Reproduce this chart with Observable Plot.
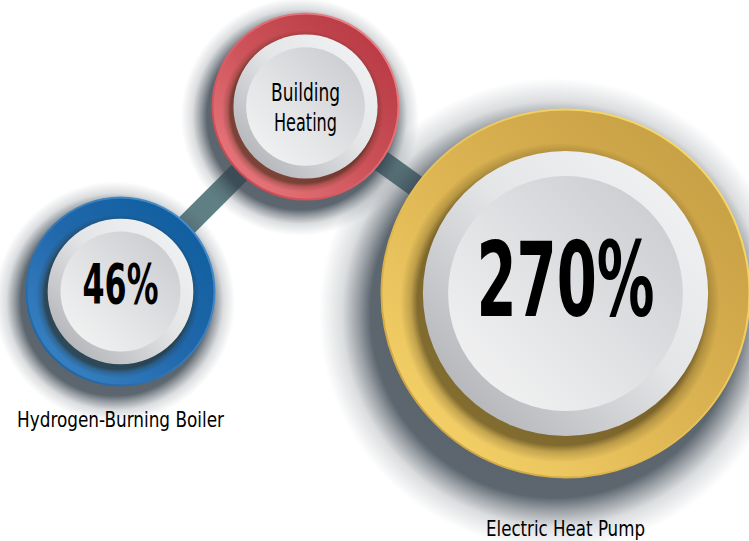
<!DOCTYPE html>
<html>
<head>
<meta charset="utf-8">
<script src="https://cdn.jsdelivr.net/npm/d3@7"></script>
<script src="https://cdn.jsdelivr.net/npm/@observablehq/plot@0.6"></script>
<style>
  html, body { margin: 0; padding: 0; background: #ffffff; }
  #chart svg { display: block; }
</style>
</head>
<body>
<div id="chart"></div>
<script>
// ---- data ----
const nodeNames   = ["Hydrogen-Burning Boiler", "Building Heating", "Electric Heat Pump"];
const nodeKeys    = ["blue", "red", "gold"];
const nodeValues  = [46, null, 270];               // efficiency, %
const centerLabels = ["46%", "Building\nHeating", "270%"];
const captions    = ["Hydrogen-Burning Boiler", "", "Electric Heat Pump"];
const linkPairs   = [[0, 1], [1, 2]];

// ---- layout (infographic positions in pixel units) ----
const W = 749, H = 541;
const nodeX = [120, 305, 565];
const nodeY = [291, 106, 293];
const nodeR = [94, 93, 184];
const captionY = [420, null, 529];

const nodes = nodeNames.map((name, i) => ({
  name, key: nodeKeys[i], value: nodeValues[i], label: centerLabels[i],
  caption: captions[i], x: nodeX[i], y: nodeY[i], r: nodeR[i], cy: captionY[i]
}));
const links = linkPairs.map(([a, b]) => ({x1: nodes[a].x, y1: nodes[a].y, x2: nodes[b].x, y2: nodes[b].y}));

const font = "'DejaVu Sans Condensed','Liberation Sans Narrow','Roboto Condensed','DejaVu Sans',sans-serif";

const DROP = 1.28, INNER = 1.12;   // shadow spreads (relative radius)

const svg = Plot.plot({
  width: W, height: H, margin: 0,
  x: {domain: [0, W], range: [0, W], axis: null},
  y: {domain: [0, H], range: [0, H], axis: null},
  r: {type: "identity"},
  color: {type: "identity"},
  style: {background: "#ffffff", fontFamily: font},
  marks: [
    Plot.link(links, {x1: "x1", y1: "y1", x2: "x2", y2: "y2", stroke: "#607f84", strokeWidth: 22}),
    Plot.dot(nodes, {x: d => d.x - d.r * 0.06, y: d => d.y + d.r * 0.11, r: d => d.r * DROP, fill: "url(#drop)"}),
    Plot.dot(nodes, {x: "x", y: "y", r: "r", fill: d => `url(#ring-${d.key})`, stroke: d => `url(#rim-${d.key})`, strokeWidth: 2}),
    Plot.dot(nodes, {x: d => d.x - d.r * 0.03, y: d => d.y + d.r * 0.05, r: d => d.r * 0.775 * INNER, fill: "url(#inner)"}),
    Plot.dot(nodes, {x: "x", y: "y", r: d => d.r * 0.775, fill: "url(#disk)"}),
    Plot.dot(nodes, {x: "x", y: "y", r: d => d.r * 0.638, fill: "url(#face)"}),
    Plot.text(nodes.filter(d => d.value != null && d.r < 150), {x: "x", y: "y", text: "label", dy: -6, fontSize: 56, fontWeight: "bold", fill: "#000"}),
    Plot.text(nodes.filter(d => d.value != null && d.r >= 150), {x: "x", y: "y", text: "label", dy: -11, fontSize: 104, fontWeight: "bold", fill: "#000"}),
    Plot.text(nodes.filter(d => d.value == null), {x: "x", y: "y", text: "label", fontSize: 25, lineHeight: 1.2, fill: "#000"}),
    Plot.text(nodes.filter(d => d.caption), {x: "x", y: "cy", text: "caption", fontSize: 21, fill: "#000"})
  ]
});

// ---- styling defs: gradients ----
const s = d3.select(svg);
const defs = s.insert("defs", ":first-child");
function lin(id, stops) {
  const g = defs.append("linearGradient").attr("id", id).attr("x1", 1).attr("y1", 0).attr("x2", 0).attr("y2", 1);
  stops.forEach(([o, c]) => g.append("stop").attr("offset", o).attr("stop-color", c));
}
function rad(id, color, stops) {
  const g = defs.append("radialGradient").attr("id", id).attr("cx", 0.5).attr("cy", 0.5).attr("r", 0.5);
  stops.forEach(([o, a]) => g.append("stop").attr("offset", o).attr("stop-color", color).attr("stop-opacity", a));
}
lin("ring-blue", [[0, "#0b5c9c"], [0.5, "#2168ab"], [1, "#3e88c9"]]);
lin("ring-red",  [[0, "#b2343f"], [0.5, "#cc5158"], [1, "#ef8287"]]);
lin("ring-gold", [[0, "#c19941"], [0.5, "#dcb452"], [1, "#fcd96e"]]);
lin("rim-blue",  [[0, "#4d93d2"], [1, "#1b5f9d"]]);
lin("rim-red",   [[0, "#f08a8e"], [1, "#c4404a"]]);
lin("rim-gold",  [[0, "#fde06a"], [0.5, "#e9c25a"], [1, "#c49a3c"]]);
lin("disk", [[0, "#f4f5f5"], [0.45, "#e4e5e7"], [1, "#a7a8ac"]]);
lin("face", [[0, "#c7c8cc"], [0.55, "#e2e3e5"], [1, "#f6f6f6"]]);
const e = 1 / DROP;
rad("drop", "#34404b", [[0, 0.85], [e, 0.8], [e + (1 - e) * 0.25, 0.5], [e + (1 - e) * 0.55, 0.18], [1, 0]]);
const f = 1 / INNER;
rad("inner", "#2a2108", [[0, 0.6], [f, 0.55], [f + (1 - f) * 0.4, 0.22], [1, 0]]);

// fit text widths to the reference's condensed lettering
const fitWidth = {"46%": 76, "270%": 178, "Building": 69, "Heating": 63, "Hydrogen-Burning Boiler": 207, "Electric Heat Pump": 159};
s.selectAll("text").each(function() {
  const t = d3.select(this);
  const spans = t.selectAll("tspan");
  if (spans.size()) {
    spans.each(function() {
      const w = fitWidth[this.textContent];
      if (w) d3.select(this).attr("textLength", w).attr("lengthAdjust", "spacingAndGlyphs");
    });
  } else {
    const w = fitWidth[this.textContent];
    if (w) t.attr("textLength", w).attr("lengthAdjust", "spacingAndGlyphs");
  }
});

document.getElementById("chart").appendChild(svg);
</script>
</body>
</html>
